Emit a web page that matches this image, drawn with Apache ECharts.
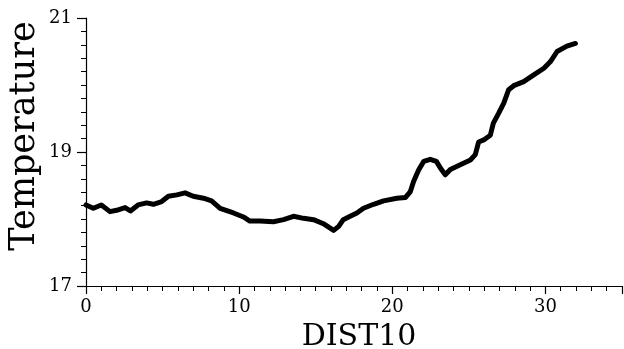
<!DOCTYPE html>
<html>
<head>
<meta charset="utf-8">
<script src="https://cdn.jsdelivr.net/npm/echarts@6/dist/echarts.min.js"></script>
<style>
  html, body { margin: 0; padding: 0; background: #fff; }
  #chart { width: 624px; height: 349px; }
</style>
</head>
<body>
<div id="chart"></div>
<script>
// Temperature profile along DIST10
const dist = [0, 0.48, 1.0, 1.57, 2.0, 2.55, 2.9, 3.4, 3.96, 4.4, 4.94, 5.38, 5.93, 6.47, 7.0, 7.67, 8.2, 8.76, 9.63, 10.28, 10.7, 11.37, 12.24, 12.9, 13.55, 14.2, 14.86, 15.5, 16.17, 16.5, 16.8, 17.25, 17.69, 18.12, 18.78, 19.43, 20.3, 20.85, 21.18, 21.39, 21.72, 22.05, 22.48, 22.88, 23.14, 23.46, 23.79, 24.44, 25.1, 25.42, 25.64, 25.97, 26.4, 26.6, 26.95, 27.28, 27.6, 27.93, 28.58, 29.24, 29.9, 30.33, 30.76, 31.4, 31.96];
const temp = [18.21, 18.16, 18.21, 18.11, 18.13, 18.17, 18.12, 18.21, 18.24, 18.22, 18.26, 18.34, 18.36, 18.39, 18.34, 18.31, 18.27, 18.16, 18.09, 18.03, 17.97, 17.97, 17.96, 17.99, 18.04, 18.01, 17.99, 17.93, 17.83, 17.89, 17.99, 18.04, 18.09, 18.16, 18.22, 18.27, 18.31, 18.32, 18.41, 18.56, 18.73, 18.86, 18.89, 18.86, 18.76, 18.66, 18.74, 18.81, 18.88, 18.96, 19.15, 19.18, 19.25, 19.43, 19.58, 19.73, 19.93, 19.99, 20.05, 20.15, 20.25, 20.35, 20.5, 20.58, 20.62];

const xRange = { min: 0, max: 35, step: 10 };
const yRange = { min: 17, max: 21, step: 2 };

const serif = 'DejaVu Serif';
const chart = echarts.init(document.getElementById('chart'), null, { renderer: 'canvas' });

chart.setOption({
  animation: false,
  backgroundColor: '#ffffff',
  grid: { left: 86, right: 2, top: 18, bottom: 63, containLabel: false, outerBoundsMode: 'none' },
  xAxis: {
    type: 'value',
    min: xRange.min, max: xRange.max, interval: xRange.step,
    name: 'DIST10',
    nameLocation: 'middle',
    nameGap: 36,
    nameMoveOverlap: false,
    nameTextStyle: { fontFamily: serif, fontSize: 30, color: '#000', padding: [0, 0, 0, 10] },
    axisLine: { lineStyle: { color: '#000', width: 1.2 } },
    axisTick: { length: 8, lineStyle: { color: '#000', width: 1.2 } },
    minorTick: { show: true, splitNumber: 10, length: 5, lineStyle: { color: '#000', width: 1 } },
    axisLabel: { fontFamily: serif, fontSize: 18, color: '#000', margin: 12, showMaxLabel: false },
    splitLine: { show: false }
  },
  yAxis: {
    type: 'value',
    min: yRange.min, max: yRange.max, interval: yRange.step,
    name: 'Temperature',
    nameLocation: 'middle',
    nameGap: 44,
    nameRotate: 90,
    nameMoveOverlap: false,
    nameTextStyle: { fontFamily: serif, fontSize: 35, color: '#000', padding: [0, 0, 0, 32] },
    axisLine: { lineStyle: { color: '#000', width: 1.2 } },
    axisTick: { length: 9, lineStyle: { color: '#000', width: 1.2 } },
    minorTick: { show: true, splitNumber: 10, length: 5, lineStyle: { color: '#000', width: 1 } },
    axisLabel: { fontFamily: serif, fontSize: 18, color: '#000', margin: 14 },
    splitLine: { show: false }
  },
  series: [{
    type: 'line',
    data: dist.map((d, i) => [d, temp[i]]),
    showSymbol: false,
    lineStyle: { color: '#000', width: 5, join: 'round', cap: 'round' },
    z: 3
  }]
});
</script>
</body>
</html>
